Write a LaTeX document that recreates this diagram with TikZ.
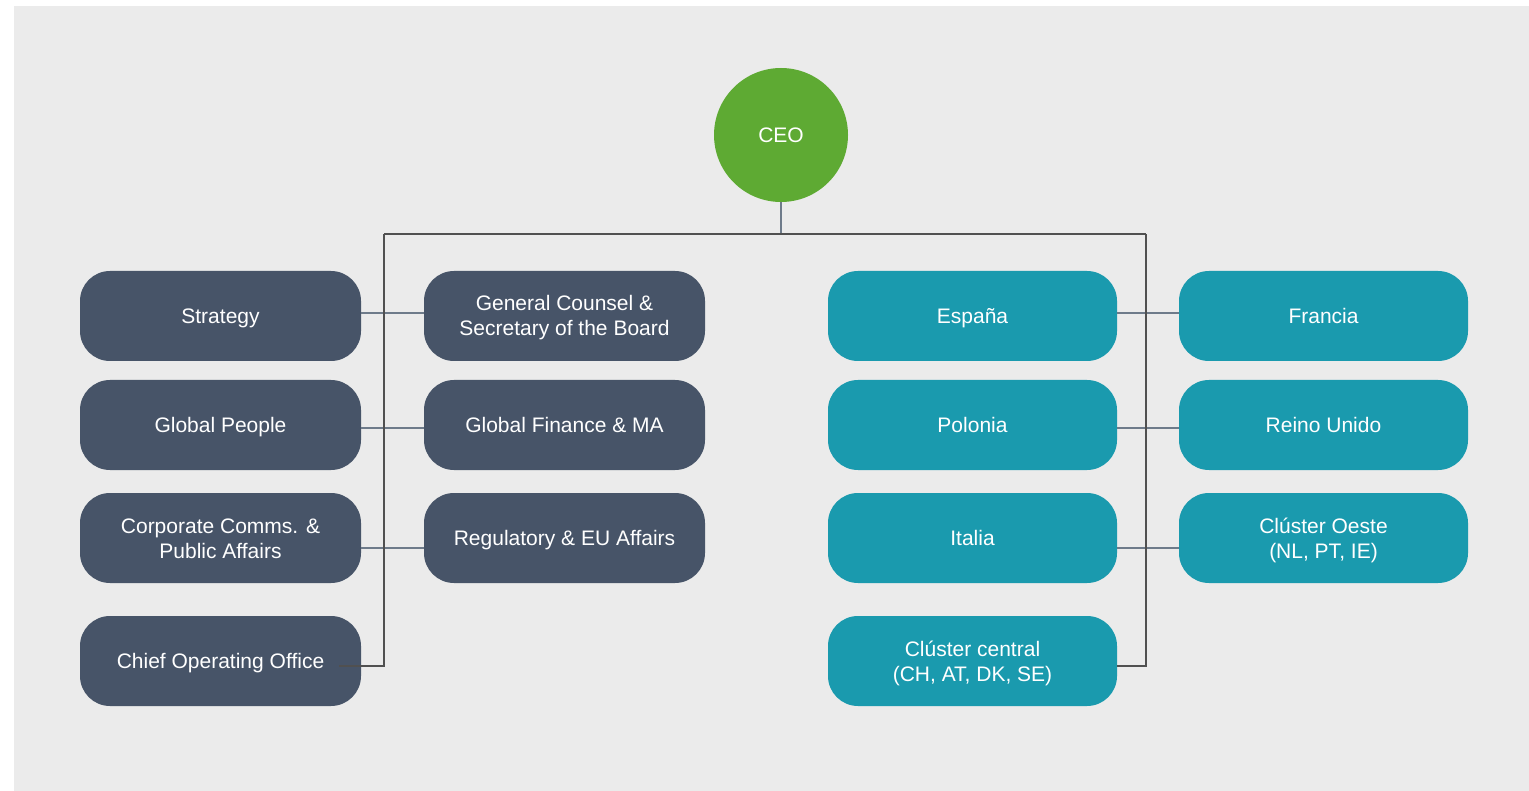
\documentclass[tikz,border=0pt]{standalone}
\usepackage{fontspec}
\setmainfont{Liberation Sans}
\usetikzlibrary{positioning}

\definecolor{bggray}{HTML}{EBEBEB}
\definecolor{slate}{HTML}{475468}
\definecolor{teal}{HTML}{1A9AAE}
\definecolor{ceogreen}{HTML}{5EAA33}
\definecolor{busgray}{HTML}{505050}
\definecolor{linkgray}{HTML}{6E7B8A}

\begin{document}
\begin{tikzpicture}[x=1pt, y=-1pt, every node/.style={font=\fontsize{21}{25}\selectfont}]
            \tikzset{
                unit/.style={
                        rounded corners=30pt, minimum width=281pt, minimum height=90pt,
                        align=center, text=white, inner sep=2pt,
                        text height=15pt, text depth=0pt
                    },
                twolines/.style={text height=40pt},
                corp/.style={unit, fill=slate},
                country/.style={unit, fill=teal, minimum width=289pt},
                link/.style={draw=linkgray, line width=1.6pt},
                bus/.style={draw=busgray, line width=1.8pt}
            }

            % Canvas
            \useasboundingbox (0,0) rectangle (1529,791);
            \fill[bggray] (14,6) rectangle (1529,791);

            % CEO
            \node[circle, fill=ceogreen, minimum size=134pt, text=white,
                  text height=15pt, text depth=0pt] (ceo) at (781,135) {CEO};

            % Corporate functions
            \node[corp] (strategy) at (220.5,316) {Strategy};
            \node[corp, twolines] (counsel) at (564.5,316) {General Counsel \&\\Secretary of the Board};
            \node[corp] (people) at (220.5,425) {Global People};
            \node[corp] (finance) at (564.5,425) {Global Finance \& MA};
            \node[corp, twolines] (comms) at (220.5,538) {Corporate Comms. \&\\Public Affairs};
            \node[corp] (regulatory) at (564.5,538) {Regulatory \& EU Affairs};
            \node[corp] (coo) at (220.5,661) {Chief Operating Office};

            % Countries
            \node[country] (espana) at (972.5,316) {España};
            \node[country] (francia) at (1323.5,316) {Francia};
            \node[country] (polonia) at (972.5,425) {Polonia};
            \node[country] (reino) at (1323.5,425) {Reino Unido};
            \node[country] (italia) at (972.5,538) {Italia};
            \node[country, twolines] (oeste) at (1323.5,538) {Clúster Oeste\\(NL, PT, IE)};
            \node[country, twolines] (central) at (972.5,661) {Clúster central\\(CH, AT, DK, SE)};

            % Links between pairs
            \draw[link] ([shift={(0,-3)}]strategy.east) -- ([shift={(0,-3)}]counsel.west);
            \draw[link] ([shift={(0,3)}]people.east) -- ([shift={(0,3)}]finance.west);
            \draw[link] ([shift={(0,10)}]comms.east) -- ([shift={(0,10)}]regulatory.west);
            \draw[link] ([shift={(0,-3)}]espana.east) -- ([shift={(0,-3)}]francia.west);
            \draw[link] ([shift={(0,3)}]polonia.east) -- ([shift={(0,3)}]reino.west);
            \draw[link] ([shift={(0,10)}]italia.east) -- ([shift={(0,10)}]oeste.west);

            % Reporting lines
            \coordinate (busL) at (384,234);
            \coordinate (busR) at (1146,234);
            \draw[link] (ceo) -- (ceo |- busL);
            \draw[bus] (busL) -- (busR);
            \draw[bus] (busL) |- ([shift={(-22,5)}]coo.east);
            \draw[bus] (busR) |- ([shift={(0,5)}]central.east);
        \end{tikzpicture}
\end{document}
